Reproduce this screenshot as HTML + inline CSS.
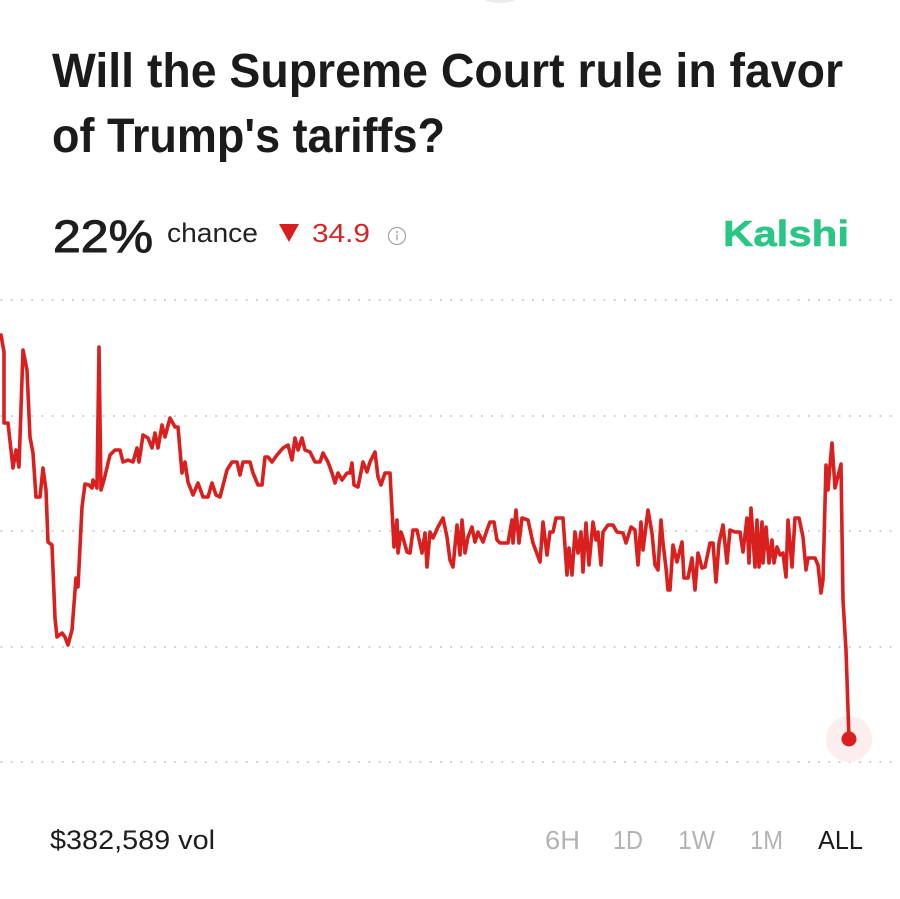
<!DOCTYPE html>
<html><head><meta charset="utf-8"><style>
html,body{margin:0;padding:0;background:#fff;}
svg{display:block;}
text{font-family:"Liberation Sans",Arial,sans-serif;}
</style></head><body>
<svg width="900" height="899" viewBox="0 0 900 899" xmlns="http://www.w3.org/2000/svg">
<rect width="900" height="899" fill="#fff"/>
<ellipse cx="500" cy="-3" rx="18" ry="6" fill="#ececec"/>
<text x="52" y="87" font-size="48" font-weight="bold" fill="#1b1b1b" textLength="791" lengthAdjust="spacingAndGlyphs">Will the Supreme Court rule in favor</text>
<text x="52" y="152" font-size="48" font-weight="bold" fill="#1b1b1b" textLength="393" lengthAdjust="spacingAndGlyphs">of Trump's tariffs?</text>

<text x="53" y="252" font-size="45" fill="#1e1e1e" stroke="#1e1e1e" stroke-width="1" textLength="100" lengthAdjust="spacingAndGlyphs">22%</text>
<text x="167" y="242" font-size="27" fill="#222" textLength="91" lengthAdjust="spacingAndGlyphs">chance</text>
<polygon points="279,224 299,224 289,242" fill="#d81e1e"/>
<text x="312" y="242" font-size="26" fill="#d42626" textLength="58" lengthAdjust="spacingAndGlyphs">34.9</text>
<circle cx="397" cy="236" r="8.5" fill="none" stroke="#a9a9a9" stroke-width="1.3"/>
<circle cx="397" cy="232" r="1.1" fill="#a9a9a9"/>
<line x1="397" y1="234.5" x2="397" y2="240.5" stroke="#a9a9a9" stroke-width="1.4"/>
<text x="723" y="246" font-size="36" font-weight="bold" fill="#29c684" stroke="#29c684" stroke-width="0.6" textLength="126" lengthAdjust="spacingAndGlyphs">Kalshi</text>

<g stroke="#cfcfcf" stroke-width="2.2" stroke-linecap="round" stroke-dasharray="0 10.22">
<line x1="1.5" y1="300" x2="892" y2="300"/>
<line x1="1.5" y1="416" x2="892" y2="416"/>
<line x1="1.5" y1="531" x2="892" y2="531"/>
<line x1="1.5" y1="647" x2="892" y2="647"/>
<line x1="1.5" y1="762" x2="892" y2="762"/>
</g>

<circle cx="849" cy="739" r="23" fill="#fdeeee"/>
<polyline fill="none" stroke="#da1f1f" stroke-width="3.6" stroke-linejoin="round" stroke-linecap="round" points="
1,335 4,352 4,423 8,423 13,468 16,450 19,467 23,350 27,370 30,437 33,453 36,497 40,497 43,468 46,490 48,542 52,545 55,618 57,637 62,633 65,637 68,645 72,630 76,578 78,587 82,507 85,484 89,485 92,488 93,480 97,488 99,347 101,490 104,480 110,455 115,450 120,450 123,462 128,460 133,462 137,448 139,462 143,435 148,438 152,448 155,433 158,448 162,425 165,437 170,418 175,427 178,427 182,473 185,462 188,482 193,495 198,483 203,497 208,497 212,483 216,495 220,497 227,470 232,462 237,462 240,475 243,462 250,462 253,473 258,485 262,485 265,457 268,457 272,462 277,455 283,448 288,445 292,460 295,438 298,450 302,438 305,450 310,452 315,462 320,462 323,453 328,462 332,473 335,483 338,473 342,480 347,473 350,473 352,463 354,485 358,487 363,462 367,472 370,462 375,452 378,477 381,485 385,473 390,473
394,547 397,520 398,553 401,532 403,538 407,552 410,553 413,530 417,530 422,553 425,533 427,567 430,532 433,538 438,527 443,518 447,537 450,560 453,567 457,525 460,555 462,520 465,553 468,537 472,527 475,542 478,532 483,542 487,530 490,522 494,522 497,540 500,543 508,543 512,520 513,543 516,510 519,543 522,518 528,520 533,543 540,562 543,522 547,555 550,532 553,532 556,518 563,518 567,575 569,548 572,575 575,532 578,553 581,532 583,572 586,523 589,565 593,522 596,540 598,532 601,565 603,532 608,525 613,525 617,532 623,533 626,543 631,527 635,530 638,565 641,522 643,550 648,510 652,533 655,565 658,570 661,520 663,543 666,568 668,590 670,590 673,545 677,562 682,542 684,578 688,578 692,558 695,590 698,553 702,568 705,567 710,543 713,543 716,582 719,543 723,525 727,563 730,530 735,532 740,532 743,552 747,518 749,563 751,508 755,567 757,520 759,567 762,522 763,563 766,527 769,563 772,540 774,563 777,547 780,555 783,553 786,577 788,520 792,567 795,518 799,518 803,537 806,570 808,558 815,558 818,565 821,593 823,580 826,465 828,490 830,465 832,443 835,488 837,480 841,464 843,600 846,650 849,739"/>
<circle cx="849" cy="739" r="7.5" fill="#da1f1f"/>

<text x="50" y="849" font-size="27" fill="#1e1e1e" textLength="165" lengthAdjust="spacingAndGlyphs">$382,589 vol</text>
<g font-size="26" fill="#b3b3b3">
<text x="545" y="849" textLength="35" lengthAdjust="spacingAndGlyphs">6H</text>
<text x="613" y="849" textLength="30" lengthAdjust="spacingAndGlyphs">1D</text>
<text x="678" y="849" textLength="37" lengthAdjust="spacingAndGlyphs">1W</text>
<text x="750" y="849" textLength="33" lengthAdjust="spacingAndGlyphs">1M</text>
</g>
<text x="818" y="849" font-size="26" fill="#1b1b1b" textLength="45" lengthAdjust="spacingAndGlyphs">ALL</text>
</svg>
</body></html>
